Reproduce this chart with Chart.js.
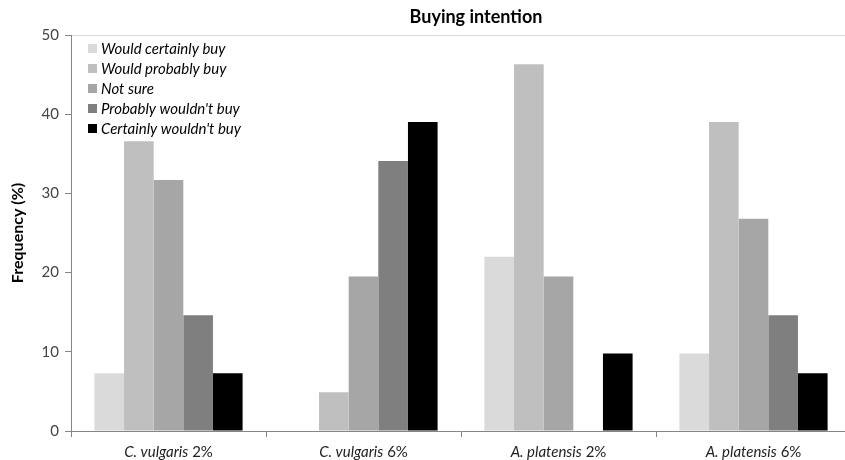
<!DOCTYPE html>
<html><head><meta charset="utf-8">
<script src="https://cdn.jsdelivr.net/npm/chart.js@4/dist/chart.umd.min.js"></script>
<style>html,body{margin:0;padding:0;overflow:hidden;background:#fff}#wrap{width:860px;height:460px}</style>
</head><body><div id="wrap"><canvas id="c" width="860" height="460"></canvas></div>
<script>
const chartTitle = "Buying intention";
const categories = ["C. vulgaris 2%", "C. vulgaris 6%", "A. platensis 2%", "A. platensis 6%"];
const speciesNames = ["C. vulgaris", "C. vulgaris", "A. platensis", "A. platensis"];
const doses = ["2%", "6%", "2%", "6%"];
const seriesNames = ["Would certainly buy", "Would probably buy", "Not sure", "Probably wouldn't buy", "Certainly wouldn't buy"];
const wouldCertainlyBuy = [7.3, 0, 22.0, 9.8];
const wouldProbablyBuy = [36.6, 4.9, 46.3, 39.0];
const notSure = [31.7, 19.5, 19.5, 26.8];
const probablyWouldntBuy = [14.6, 34.1, 0, 14.6];
const certainlyWouldntBuy = [7.3, 39.0, 9.8, 7.3];
const yTicks = [0, 10, 20, 30, 40, 50];
const colors = ["#dadada", "#bfbfbf", "#a6a6a6", "#7f7f7f", "#000000"];

const seriesValues = [wouldCertainlyBuy, wouldProbablyBuy, notSure, probablyWouldntBuy, certainlyWouldntBuy];
const FONT = "Lato, 'Open Sans', sans-serif";

const titlePlugin = {
  id: 'customTitle',
  afterDraw(chart) {
    const ctx = chart.ctx;
    ctx.save();
    ctx.fillStyle = '#000';
    ctx.font = "bold 18px " + FONT;
    ctx.textAlign = 'center';
    ctx.textBaseline = 'middle';
    ctx.fillText(chartTitle, 476, 17);
    ctx.restore();
  }
};

const legendPlugin = {
  id: 'insideLegend',
  afterDraw(chart) {
    const ctx = chart.ctx;
    ctx.save();
    const x0 = 88, y0 = 48.5, step = 20;
    chart.data.datasets.forEach((ds, i) => {
      const cy = y0 + i * step;
      ctx.fillStyle = ds.backgroundColor;
      ctx.fillRect(x0, cy - 4.5, 9, 9);
      ctx.fillStyle = '#000';
      ctx.font = "italic 15px " + FONT;
      ctx.textBaseline = 'middle';
      ctx.textAlign = 'left';
      ctx.fillText(ds.label, x0 + 13, cy + 0.5);
    });
    ctx.restore();
  }
};

const xLabelPlugin = {
  id: 'xLabels',
  afterDraw(chart) {
    const ctx = chart.ctx;
    const xs = chart.scales.x;
    ctx.save();
    ctx.fillStyle = '#222';
    ctx.textBaseline = 'middle';
    ctx.textAlign = 'left';
    categories.forEach((c, i) => {
      const cx = xs.getPixelForValue(i);
      const a = speciesNames[i], b = ' ' + doses[i];
      ctx.font = "italic 15px " + FONT;
      const wa = ctx.measureText(a).width;
      ctx.font = "15px " + FONT;
      const wb = ctx.measureText(b).width;
      const sx = cx - (wa + wb) / 2;
      ctx.font = "italic 15px " + FONT;
      ctx.fillText(a, sx, 452);
      ctx.font = "15px " + FONT;
      ctx.fillText(b, sx + wa, 452);
    });
    ctx.restore();
  }
};

new Chart(document.getElementById('c'), {
  type: 'bar',
  data: {
    labels: categories,
    datasets: seriesNames.map((n, i) => ({
      label: n,
      data: seriesValues[i],
      backgroundColor: colors[i],
      borderWidth: 0,
      categoryPercentage: 0.76,
      barPercentage: 1.0
    }))
  },
  options: {
    responsive: false,
    animation: false,
    layout: { padding: { left: 0, right: 9, top: 35, bottom: 0 } },
    plugins: {
      legend: { display: false },
      tooltip: { enabled: false },
      title: { display: false }
    },
    scales: {
      x: {
        offset: true,
        grid: { offset: true, drawOnChartArea: false, color: '#868686', tickLength: 6, tickColor: '#868686' },
        border: { color: '#868686', width: 1 },
        ticks: { color: 'rgba(0,0,0,0)', font: { size: 14 } },
        afterFit(s) { s.height = 29; }
      },
      y: {
        min: 0, max: 50,
        afterBuildTicks(s) { s.ticks = yTicks.map(v => ({ value: v })); },
        grid: {
          drawOnChartArea: true,
          color: (c) => (c.tick && c.tick.value === 50) ? '#d9d9d9' : 'rgba(0,0,0,0)',
          tickColor: '#868686',
          tickLength: 6
        },
        border: { color: '#868686', width: 1 },
        ticks: { color: '#444', font: { family: FONT, size: 15 }, padding: 6 },
        title: {
          display: true,
          text: 'Frequency (%)',
          color: '#000',
          font: { family: FONT, size: 16, weight: 'bold' },
          padding: { top: 8, bottom: 4 }
        },
        afterFit(s) { s.width = 71; }
      }
    }
  },
  plugins: [legendPlugin, xLabelPlugin, titlePlugin]
});
</script>
</body></html>
